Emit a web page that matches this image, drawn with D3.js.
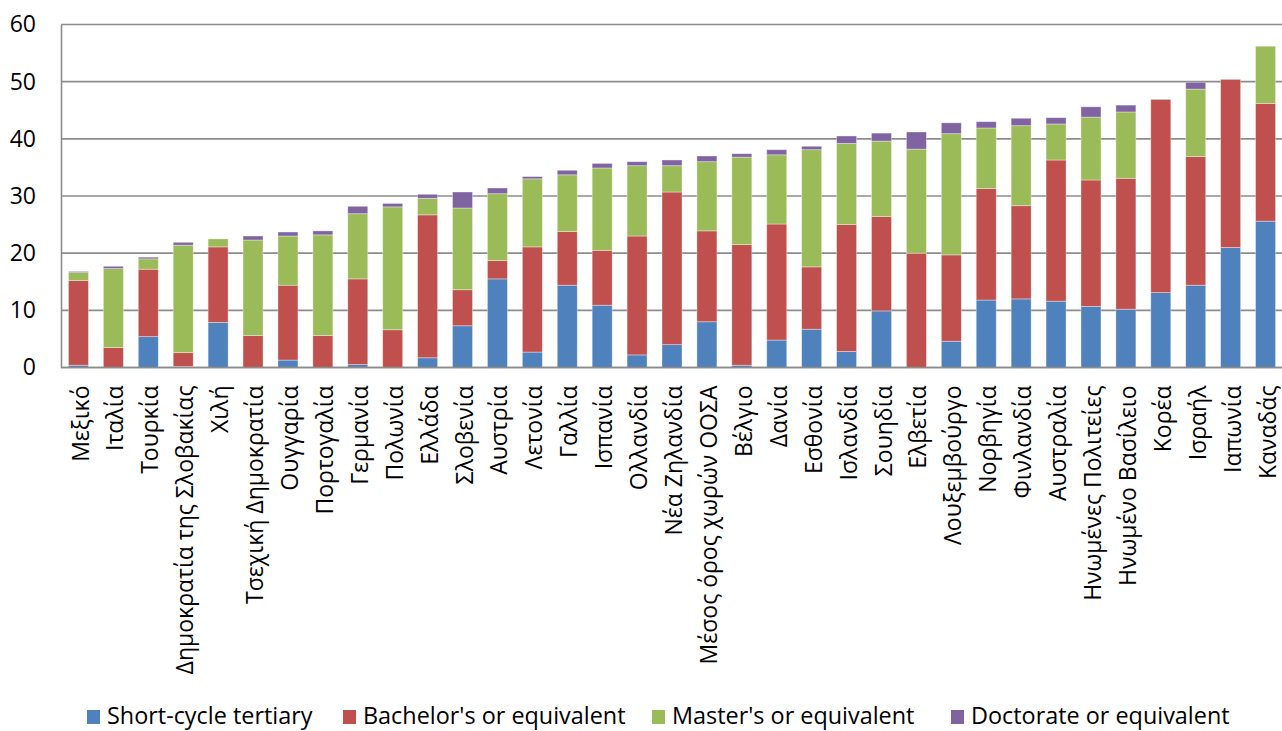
<!DOCTYPE html>
<html>
<head>
<meta charset="utf-8">
<script src="https://cdn.jsdelivr.net/npm/d3@7"></script>
<style>
  html, body { margin: 0; padding: 0; background: #fff; }
  svg { display: block; font-family: "Open Sans", "Noto Sans", sans-serif; }
</style>
</head>
<body>
<svg id="chart" width="1282" height="731"></svg>
<script>
const categories = [
  "Μεξικό", "Ιταλία", "Τουρκία", "Δημοκρατία της Σλοβακίας", "Χιλή",
  "Τσεχική Δημοκρατία", "Ουγγαρία", "Πορτογαλία", "Γερμανία", "Πολωνία",
  "Ελλάδα", "Σλοβενία", "Αυστρία", "Λετονία", "Γαλλία", "Ισπανία",
  "Ολλανδία", "Νέα Ζηλανδία", "Μέσος όρος χωρών ΟΟΣΑ", "Βέλγιο", "Δανία",
  "Εσθονία", "Ισλανδία", "Σουηδία", "Ελβετία", "Λουξεμβούργο", "Νορβηγία",
  "Φινλανδία", "Αυστραλία", "Ηνωμένες Πολιτείες", "Ηνωμένο Βασίλειο",
  "Κορέα", "Ισραήλ", "Ιαπωνία", "Καναδάς"
];
const seriesNames = ["Short-cycle tertiary", "Bachelor's or equivalent", "Master's or equivalent", "Doctorate or equivalent"];
const shortCycle = [0.4, 0, 5.4, 0.2, 7.9, 0, 1.3, 0, 0.5, 0, 1.7, 7.3, 15.5, 2.7, 14.4, 10.9, 2.2, 4.0, 8.0, 0.4, 4.8, 6.7, 2.8, 9.9, 0, 4.6, 11.8, 12.0, 11.6, 10.7, 10.2, 13.1, 14.4, 21.0, 25.6];
const bachelor   = [14.8, 3.5, 11.8, 2.4, 13.2, 5.6, 13.1, 5.6, 15.0, 6.6, 25.0, 6.3, 3.2, 18.4, 9.4, 9.6, 20.8, 26.7, 15.9, 21.1, 20.3, 10.9, 22.2, 16.5, 20.0, 15.1, 19.5, 16.3, 24.7, 22.1, 22.9, 33.8, 22.5, 29.4, 20.6];
const master     = [1.4, 13.8, 1.8, 18.8, 1.4, 16.7, 8.6, 17.6, 11.4, 21.5, 2.9, 14.3, 11.7, 11.9, 9.9, 14.4, 12.3, 4.6, 12.1, 15.3, 12.1, 20.5, 14.2, 13.2, 18.2, 21.2, 10.6, 14.0, 6.3, 11.0, 11.6, 0, 11.8, 0, 10.0];
const doctorate  = [0.2, 0.4, 0.3, 0.5, 0, 0.7, 0.7, 0.7, 1.3, 0.6, 0.7, 2.8, 1.0, 0.4, 0.8, 0.8, 0.7, 1.0, 1.0, 0.6, 0.9, 0.6, 1.3, 1.4, 3.0, 1.9, 1.1, 1.3, 1.1, 1.8, 1.2, 0, 1.2, 0, 0];
const yTicks = [0, 10, 20, 30, 40, 50, 60];
const colors = ["#4F81BD", "#C0504D", "#9BBB59", "#8064A2"];

const keys = ["s", "b", "m", "d"];
const table = categories.map((c, i) => ({
  cat: c, s: shortCycle[i], b: bachelor[i], m: master[i], d: doctorate[i]
}));

const svg = d3.select("#chart");
const mLeft = 61, mRight = 1283, mTop = 24.5, mBottom = 367.5;

const x = d3.scaleBand().domain(categories).range([mLeft, mRight]).paddingInner(0.427).paddingOuter(0.2135);
const y = d3.scaleLinear().domain([0, 60]).range([mBottom, mTop]);

// gridlines
svg.append("g").selectAll("line").data(yTicks).join("line")
  .attr("x1", mLeft).attr("x2", 1282)
  .attr("y1", d => y(d)).attr("y2", d => y(d))
  .attr("stroke", "#8c8c8c").attr("stroke-width", 1.6);

// y axis
const yAxis = svg.append("g").attr("transform", `translate(${mLeft},0)`)
  .call(d3.axisLeft(y).tickValues(yTicks).tickSize(0).tickPadding(25));
yAxis.select(".domain").attr("stroke", "#8c8c8c").attr("stroke-width", 1.6);
yAxis.selectAll("text").attr("font-size", 23).attr("fill", "#000")
  .attr("font-family", "'Open Sans', sans-serif");

// stacked bars
const stack = d3.stack().keys(keys)(table);
svg.append("g").selectAll("g").data(stack).join("g")
  .attr("fill", (d, i) => colors[i])
  .selectAll("rect").data(d => d).join("rect")
  .attr("x", d => x(d.data.cat))
  .attr("width", x.bandwidth())
  .attr("y", d => y(d[1]))
  .attr("height", d => Math.max(0, y(d[0]) - y(d[1])))
  .attr("stroke", "rgba(255,255,255,0.45)").attr("stroke-width", 0.8);

// baseline
svg.append("line").attr("x1", mLeft).attr("x2", 1282)
  .attr("y1", y(0)).attr("y2", y(0))
  .attr("stroke", "#8c8c8c").attr("stroke-width", 1.6);

// x axis labels
const xAxis = svg.append("g").attr("transform", `translate(0,${mBottom})`)
  .call(d3.axisBottom(x).tickSize(0).tickPadding(0));
xAxis.select(".domain").remove();
xAxis.selectAll("text")
  .attr("font-size", 23).attr("fill", "#000")
  .attr("font-family", "'Open Sans', sans-serif")
  .attr("text-anchor", "end")
  .attr("transform", "rotate(-90)")
  .attr("x", -18).attr("y", 2).attr("dy", "0.35em");

// legend
const legendX = [87, 343, 652, 951];
const legend = svg.append("g");
seriesNames.forEach((n, i) => {
  const g = legend.append("g").attr("transform", `translate(${legendX[i]},716)`);
  g.append("rect").attr("x", 0).attr("y", -6).attr("width", 13).attr("height", 14).attr("fill", colors[i]);
  g.append("text").attr("x", 20).attr("y", 0).attr("dy", "0.35em")
    .attr("font-size", 23.4).attr("fill", "#000").text(n);
});
</script>
</body>
</html>
